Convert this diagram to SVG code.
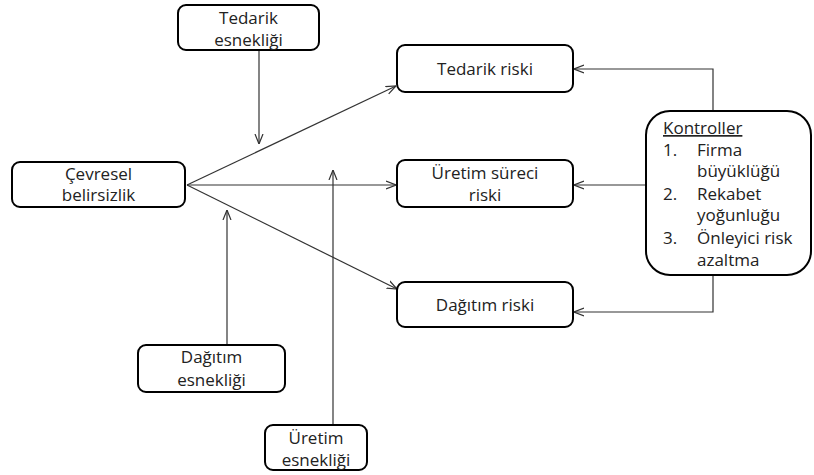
<svg xmlns="http://www.w3.org/2000/svg" width="814" height="475" viewBox="0 0 814 475">
<style>
.box{fill:#fff;stroke:#000;stroke-width:2}
.t{font-family:"Open Sans","Liberation Sans",sans-serif;font-size:17px;fill:#222;text-anchor:middle}
.tl{font-family:"Open Sans","Liberation Sans",sans-serif;font-size:17px;fill:#222}
.c{fill:none;stroke:#333;stroke-width:1.2}
</style>
<defs>
<marker id="a" viewBox="0 0 10 10" refX="10" refY="5" markerWidth="10" markerHeight="10" markerUnits="userSpaceOnUse" orient="auto">
<path d="M0,1 L10,5 L0,9" fill="none" stroke="#333" stroke-width="1.2"/>
</marker>
</defs>
<g id="connectors">
<line class="c" x1="259" y1="50" x2="259" y2="144" marker-end="url(#a)"/>
<line class="c" x1="187" y1="185" x2="396" y2="86" marker-end="url(#a)"/>
<line class="c" x1="187" y1="185" x2="396" y2="185" marker-end="url(#a)"/>
<line class="c" x1="187" y1="185" x2="397" y2="289" marker-end="url(#a)"/>
<line class="c" x1="227" y1="345" x2="227" y2="210" marker-end="url(#a)"/>
<line class="c" x1="333" y1="425" x2="333" y2="170" marker-end="url(#a)"/>
<polyline class="c" points="713,111 713,69 574,69" marker-end="url(#a)"/>
<line class="c" x1="646" y1="185" x2="574" y2="185" marker-end="url(#a)"/>
<polyline class="c" points="713,275 713,312 574,312" marker-end="url(#a)"/>
</g>
<g id="tedarik-esnekligi">
<rect class="box" x="178" y="5" width="141" height="45" rx="8"/>
<text class="t" x="248.5" y="24">Tedarik</text>
<text class="t" x="248.5" y="46">esnekliği</text>
</g>
<g id="cevresel-belirsizlik">
<rect class="box" x="12" y="162" width="173" height="45" rx="8"/>
<text class="t" x="98.5" y="180">Çevresel</text>
<text class="t" x="98.5" y="201">belirsizlik</text>
</g>
<g id="tedarik-riski">
<rect class="box" x="397" y="45" width="176" height="47" rx="8"/>
<text class="t" x="485" y="75">Tedarik riski</text>
</g>
<g id="uretim-sureci-riski">
<rect class="box" x="397" y="160" width="176" height="47" rx="8"/>
<text class="t" x="485" y="179">Üretim süreci</text>
<text class="t" x="485" y="201">riski</text>
</g>
<g id="dagitim-riski">
<rect class="box" x="397" y="282" width="176" height="45" rx="8"/>
<text class="t" x="485" y="311">Dağıtım riski</text>
</g>
<g id="kontroller">
<rect class="box" x="646" y="111" width="165" height="164" rx="24"/>
<text class="tl" x="663" y="134" text-decoration="underline">Kontroller</text>
<text class="tl" x="663" y="156">1.</text>
<text class="tl" x="697" y="156">Firma</text>
<text class="tl" x="697" y="177">büyüklüğü</text>
<text class="tl" x="663" y="200">2.</text>
<text class="tl" x="697" y="200">Rekabet</text>
<text class="tl" x="697" y="221">yoğunluğu</text>
<text class="tl" x="663" y="244">3.</text>
<text class="tl" x="697" y="244">Önleyici risk</text>
<text class="tl" x="697" y="266">azaltma</text>
</g>
<g id="dagitim-esnekligi">
<rect class="box" x="138" y="345" width="147" height="47" rx="8"/>
<text class="t" x="211.5" y="363">Dağıtım</text>
<text class="t" x="211.5" y="386">esnekliği</text>
</g>
<g id="uretim-esnekligi">
<rect class="box" x="265" y="425" width="102" height="45" rx="8"/>
<text class="t" x="316" y="444">Üretim</text>
<text class="t" x="316" y="466">esnekliği</text>
</g>
</svg>
